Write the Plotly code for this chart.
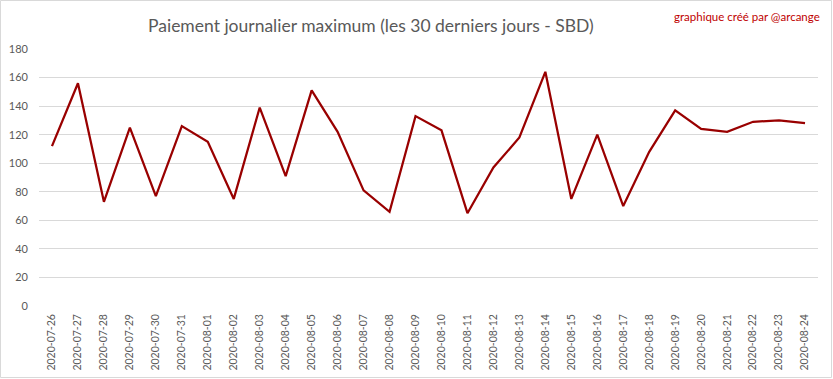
import plotly.graph_objects as go

dates = ["2020-07-26", "2020-07-27", "2020-07-28", "2020-07-29", "2020-07-30", "2020-07-31",
         "2020-08-01", "2020-08-02", "2020-08-03", "2020-08-04", "2020-08-05", "2020-08-06",
         "2020-08-07", "2020-08-08", "2020-08-09", "2020-08-10", "2020-08-11", "2020-08-12",
         "2020-08-13", "2020-08-14", "2020-08-15", "2020-08-16", "2020-08-17", "2020-08-18",
         "2020-08-19", "2020-08-20", "2020-08-21", "2020-08-22", "2020-08-23", "2020-08-24"]
payout = [112, 156, 73, 125, 77, 126, 115, 75, 139, 91, 151, 122, 81, 66, 133, 123, 65, 97,
          118, 164, 75, 120, 70, 108, 137, 124, 122, 129, 130, 128]
y_ticks = [0, 20, 40, 60, 80, 100, 120, 140, 160, 180]

W, H = 833, 379
ML, MR, MT, MB = 39, 15, 49, 73
pw, ph = W - ML - MR, H - MT - MB
FONT = "Lato, Calibri, sans-serif"

fig = go.Figure(go.Scatter(
    x=dates, y=payout, mode="lines",
    line=dict(color="#990000", width=2.25),
    hoverinfo="x+y",
))

fig.update_layout(
    width=W, height=H,
    margin=dict(l=ML, r=MR, t=MT, b=MB, autoexpand=False),
    paper_bgcolor="white", plot_bgcolor="white",
    showlegend=False,
    font=dict(family=FONT, color="#595959"),
    xaxis=dict(type="category", range=[-0.5, len(dates) - 0.5], showgrid=False,
               tickangle=-90, tickfont=dict(size=10.5, color="#595959"),
               showline=False, zeroline=False, ticks="", ticklabelstandoff=5,
               automargin=False),
    yaxis=dict(range=[0, 180], tickvals=y_ticks, showgrid=True, gridcolor="#D9D9D9",
               gridwidth=1, zeroline=False, showline=False, ticks="",
               tickfont=dict(size=11, color="#595959"), ticklabelstandoff=10,
               automargin=False),
    annotations=[
        dict(text="Paiement journalier maximum (les 30 derniers jours - SBD)",
             xref="paper", yref="paper", x=(371 - ML) / pw, y=(H - MB - 25) / ph,
             xanchor="center", yanchor="middle", showarrow=False,
             font=dict(size=17.5, color="#595959", family=FONT)),
        dict(text="graphique créé par @arcange",
             xref="paper", yref="paper", x=(822 - ML) / pw, y=(H - MB - 16) / ph,
             xanchor="right", yanchor="middle", showarrow=False,
             font=dict(size=11.5, color="#C00000", family=FONT)),
    ],
    shapes=[dict(type="rect", xref="paper", yref="paper",
                 x0=(0.5 - ML) / pw, x1=(W - 1.5 - ML) / pw,
                 y0=(H - MB - (H - 1.5)) / ph, y1=(H - MB - 0.5) / ph,
                 line=dict(color="#D9D9D9", width=1), layer="below")],
)

fig.write_html("out.html", config={"displayModeBar": False},
               post_script="document.body.style.margin='0';document.body.style.overflow='hidden';")
